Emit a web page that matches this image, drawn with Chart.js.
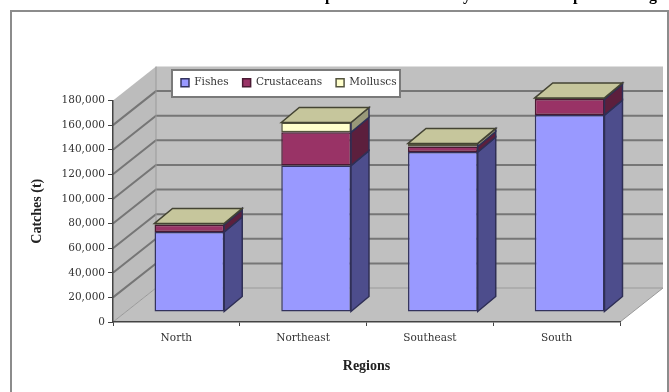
<!DOCTYPE html>
<html>
<head>
<meta charset="utf-8">
<title>Catches by region</title>
<script src="https://cdn.jsdelivr.net/npm/chart.js@4"></script>
<style>
    html, body { margin: 0; padding: 0; background: #fff; overflow: hidden; }
    #catchesChart { display: block; }
</style>
</head>
<body>
<canvas id="catchesChart" width="669" height="392"></canvas>
<script>
const regions = ['North', 'Northeast', 'Southeast', 'South'];
const fishes = [65000, 119000, 130000, 160000];
const crustaceans = [6000, 27000, 4500, 13000];
const molluscs = [1000, 8000, 2500, 1000];

const yTicks = [0, 20000, 40000, 60000, 80000, 100000, 120000, 140000, 160000, 180000];
const headline = 'Composition of catches by main marine species in region';

const WALL_DX = 43, WALL_DY = 34;   // depth of the chart box
const BAR_DX = 13, BAR_DY = 10;     // where the bars stand on the floor
const SIDE_DX = 18, SIDE_DY = 15;   // depth of each bar

const serif = '"DejaVu Serif", serif';
const boldSerif = '"Liberation Serif", serif';

function fillPoly(ctx, pts, fill, stroke) {
    ctx.beginPath();
    pts.forEach((p, i) => i ? ctx.lineTo(p[0], p[1]) : ctx.moveTo(p[0], p[1]));
    ctx.closePath();
    ctx.fillStyle = fill;
    ctx.fill();
    if (stroke) {
        ctx.strokeStyle = stroke;
        ctx.lineWidth = 1.5;
        ctx.stroke();
    }
}

// walls, floor, frame and the legend box go under everything else
const boxPlugin = {
    id: 'box3d',
    afterLayout(chart) {
        const legend = chart.legend;
        const w = legend.right - legend.left;
        legend.left = 167;
        legend.right = 167 + w;
        const h = legend.bottom - legend.top;
        legend.top = 63.5;
        legend.bottom = 63.5 + h;
    },
    beforeDraw(chart) {
        const ctx = chart.ctx;
        const x = chart.scales.x, y = chart.scales.y;
        const l = x.left, r = x.right, b = y.bottom, t = y.top;

        ctx.save();
        ctx.fillStyle = '#fff';
        ctx.fillRect(0, 0, chart.width, chart.height);

        ctx.fillStyle = '#000';
        ctx.font = 'bold 16px ' + boldSerif;
        ctx.textBaseline = 'alphabetic';
        ctx.fillText(headline, 292, 0);

        ctx.strokeStyle = '#8c8c8c';
        ctx.lineWidth = 2;
        ctx.strokeRect(11, 11, 657, 400);

        const wall = '#c0c0c0';
        fillPoly(ctx, [[l + WALL_DX, t - WALL_DY], [r + WALL_DX, t - WALL_DY], [r + WALL_DX, b - WALL_DY], [l + WALL_DX, b - WALL_DY]], wall);
        fillPoly(ctx, [[l, t], [l + WALL_DX, t - WALL_DY], [l + WALL_DX, b - WALL_DY], [l, b]], '#bcbcbc');
        fillPoly(ctx, [[l, b], [l + WALL_DX, b - WALL_DY], [r + WALL_DX, b - WALL_DY], [r, b]], wall);

        ctx.strokeStyle = '#767676';
        ctx.lineWidth = 2;
        yTicks.forEach((v, i) => {
            if (i === 0 || i === yTicks.length - 1) return;
            const py = y.getPixelForValue(v);
            ctx.beginPath();
            ctx.moveTo(l, py);
            ctx.lineTo(l + WALL_DX, py - WALL_DY);
            ctx.lineTo(r + WALL_DX, py - WALL_DY);
            ctx.stroke();
        });

        // edges of the box
        ctx.strokeStyle = '#9a9a9a';
        ctx.lineWidth = 1;
        ctx.beginPath();
        ctx.moveTo(l, b);
        ctx.lineTo(l + WALL_DX, b - WALL_DY);
        ctx.lineTo(r + WALL_DX, b - WALL_DY);
        ctx.lineTo(r, b);
        ctx.moveTo(l + WALL_DX, b - WALL_DY);
        ctx.lineTo(l + WALL_DX, t - WALL_DY);
        ctx.stroke();

        // legend panel
        ctx.fillStyle = '#fff';
        ctx.strokeStyle = '#7a7a7a';
        ctx.lineWidth = 2;
        ctx.fillRect(172, 70, 228, 27);
        ctx.strokeRect(172, 70, 228, 27);
        ctx.restore();
    },
    beforeDatasetsDraw(chart) {
        chart.ctx.save();
        chart.ctx.translate(BAR_DX, -BAR_DY);
    },
    afterDatasetsDraw(chart) {
        const ctx = chart.ctx;
        const sides = ['#4d4d8c', '#5c1f3d', '#999979'];
        const last = chart.data.datasets.length - 1;
        chart.data.datasets.forEach((ds, i) => {
            chart.getDatasetMeta(i).data.forEach(bar => {
                const right = bar.x + bar.width / 2;
                const left = bar.x - bar.width / 2;
                fillPoly(ctx, [[right, bar.y], [right + SIDE_DX, bar.y - SIDE_DY], [right + SIDE_DX, bar.base - SIDE_DY], [right, bar.base]], sides[i], '#2f2f55');
                if (i === last) {
                    fillPoly(ctx, [[left, bar.y], [left + SIDE_DX, bar.y - SIDE_DY], [right + SIDE_DX, bar.y - SIDE_DY], [right, bar.y]], '#c6c69c', '#444433');
                }
            });
        });
        ctx.restore();
    }
};

function fixedWidth(px) { return scale => { scale.width = px; }; }
function fixedHeight(px) { return scale => { scale.height = px; }; }

new Chart(document.getElementById('catchesChart'), {
    type: 'bar',
    data: {
        labels: regions,
        datasets: [
            { label: 'Fishes', data: fishes, backgroundColor: '#9999ff', borderColor: '#33335e', borderWidth: 1.5, borderSkipped: false, clip: false },
            { label: 'Crustaceans', data: crustaceans, backgroundColor: '#993366', borderColor: '#4a1a33', borderWidth: 1.5, borderSkipped: false, clip: false },
            { label: 'Molluscs', data: molluscs, backgroundColor: '#ffffcc', borderColor: '#55553f', borderWidth: 1.5, borderSkipped: false, clip: false }
        ]
    },
    plugins: [boxPlugin],
    options: {
        responsive: false,
        animation: false,
        layout: { padding: { left: 0, right: 49, top: 66, bottom: 0 } },
        categoryPercentage: 0.55,
        barPercentage: 1,
        scales: {
            x: {
                stacked: true,
                afterFit: fixedHeight(70),
                grid: { drawOnChartArea: false, tickLength: 4, color: '#444' },
                border: { color: '#444', width: 1.5 },
                ticks: { color: '#333', font: { family: serif, size: 10.5 }, padding: 6, maxRotation: 0 },
                title: {
                    display: true,
                    text: 'Regions',
                    color: '#222',
                    font: { family: boldSerif, size: 14, weight: 'bold' },
                    padding: { top: 0, bottom: 17 }
                }
            },
            y: {
                stacked: true,
                min: 0,
                max: 180000,
                afterFit: fixedWidth(113),
                afterBuildTicks: scale => { scale.ticks = yTicks.map(value => ({ value })); },
                grid: { drawOnChartArea: false, tickLength: 5, color: '#444' },
                border: { color: '#444', width: 1.5 },
                ticks: {
                    color: '#333',
                    font: { family: serif, size: 10.5 },
                    padding: 3,
                    callback: v => v.toLocaleString('en-US')
                },
                title: {
                    display: true,
                    text: 'Catches (t)',
                    color: '#222',
                    font: { family: boldSerif, size: 14, weight: 'bold' },
                    padding: { top: 29, bottom: 0 }
                }
            }
        },
        plugins: {
            legend: {
                position: 'top',
                align: 'start',
                labels: {
                    boxWidth: 8,
                    boxHeight: 8,
                    padding: 14,
                    color: '#333',
                    font: { family: serif, size: 10.5 }
                }
            },
            tooltip: { enabled: false }
        }
    }
});
</script>
</body>
</html>
